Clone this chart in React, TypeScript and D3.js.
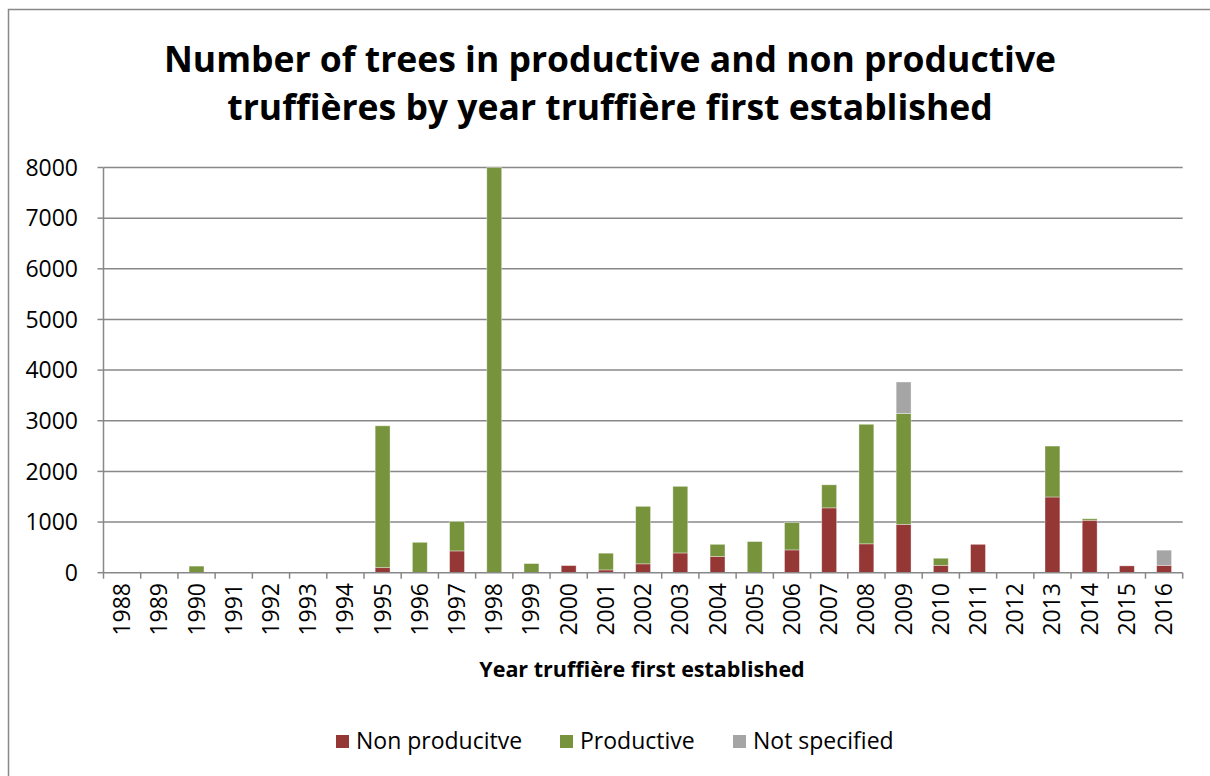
import React from "react";
import * as d3 from "d3";

const years = ["1988","1989","1990","1991","1992","1993","1994","1995","1996","1997","1998","1999","2000","2001","2002","2003","2004","2005","2006","2007","2008","2009","2010","2011","2012","2013","2014","2015","2016"];
const nonProductive = [0,0,0,0,0,0,0,100,0,430,0,0,140,55,175,390,320,0,450,1280,570,955,145,560,0,1495,1035,135,145];
const productive = [0,0,130,0,0,0,0,2800,600,580,8000,180,0,330,1135,1315,240,615,540,455,2360,2190,140,0,0,1005,30,0,0];
const notSpecified = [0,0,0,0,0,0,0,0,0,0,0,0,0,0,0,0,0,0,0,0,0,620,0,0,0,0,0,0,300];
const yTicks = [0,1000,2000,3000,4000,5000,6000,7000,8000];

const seriesNames = ["Non producitve", "Productive", "Not specified"];
const seriesColors = ["#953735", "#77933C", "#A5A5A5"];

const W = 1210, H = 776;
const left = 103.5, right = 1182.7, top = 167.5, bottom = 572.7;

export default function App() {
  const x = d3.scaleBand<string>().domain(years).range([left, right]).paddingInner(0.6).paddingOuter(0.3);
  const xb = d3.scaleBand<string>().domain(years).range([left, right]);
  const y = d3.scaleLinear().domain([0, 8000]).range([bottom, top]);
  const rows = years.map((yr, i) => ({ year: yr, a: nonProductive[i], b: productive[i], c: notSpecified[i] }));
  const stack = d3.stack<any>().keys(["a", "b", "c"])(rows);
  const font = "'Open Sans', sans-serif";
  const clipId = "plotclip";

  return (
    <svg width={W} height={H} style={{ position: "absolute", left: 0, top: 0, background: "#fff" }} fontFamily={font}>
      <defs>
        <clipPath id={clipId}><rect x={left} y={top - 0.5} width={right - left} height={bottom - top + 1} /></clipPath>
      </defs>
      <rect x={8.5} y={9.5} width={W} height={H} fill="#fff" stroke="#888" strokeWidth={1.5} />
      <text x={610} y={72} textAnchor="middle" fontSize={35.5} fontWeight={700} fill="#000">Number of trees in productive and non productive</text>
      <text x={610} y={120} textAnchor="middle" fontSize={35.5} fontWeight={700} fill="#000">truffières by year truffière first established</text>

      {yTicks.filter(t => t > 0).map(t => (
        <line key={"g" + t} x1={left} x2={right} y1={y(t)} y2={y(t)} stroke="#888" strokeWidth={1.5} />
      ))}
      {yTicks.map(t => (
        <g key={"yt" + t}>
          <line x1={left - 6} x2={left} y1={y(t)} y2={y(t)} stroke="#888" strokeWidth={1.5} />
          <text x={78} y={y(t)} dy="0.36em" textAnchor="end" fontSize={23} fill="#000">{t}</text>
        </g>
      ))}

      <g clipPath={`url(#${clipId})`}>
        {stack.map((s, si) => (
          <g key={si} fill={seriesColors[si]}>
            {s.map((d: any, i: number) => {
              const h = y(d[0]) - y(d[1]);
              if (h <= 0) return null;
              return <rect key={i} x={x(years[i])} y={y(d[1])} width={x.bandwidth()} height={h} stroke="#fff" strokeOpacity={0.45} strokeWidth={0.8} />;
            })}
          </g>
        ))}
      </g>

      <line x1={left} x2={left} y1={top} y2={bottom} stroke="#888" strokeWidth={1.5} />
      <line x1={left} x2={right} y1={bottom} y2={bottom} stroke="#888" strokeWidth={1.5} />
      {years.map((yr) => (
        <line key={"xt" + yr} x1={xb(yr)} x2={xb(yr)} y1={bottom} y2={bottom + 6} stroke="#888" strokeWidth={1.5} />
      ))}
      <line x1={right} x2={right} y1={bottom} y2={bottom + 6} stroke="#888" strokeWidth={1.5} />
      {years.map(yr => {
        const cx = (x(yr) as number) + x.bandwidth() / 2;
        return (
          <text key={"xl" + yr} transform={`translate(${cx + 8},583) rotate(-90)`} textAnchor="end" fontSize={23} fill="#000">{yr}</text>
        );
      })}
      <text x={642} y={677} textAnchor="middle" fontSize={21.5} fontWeight={700} fill="#000">Year truffière first established</text>

      {seriesNames.map((n, i) => {
        const lx = [336, 560, 733][i];
        return (
          <g key={n}>
            <rect x={lx} y={735} width={13} height={13} fill={seriesColors[i]} />
            <text x={lx + 20} y={749} fontSize={23} fill="#000">{n}</text>
          </g>
        );
      })}
    </svg>
  );
}
